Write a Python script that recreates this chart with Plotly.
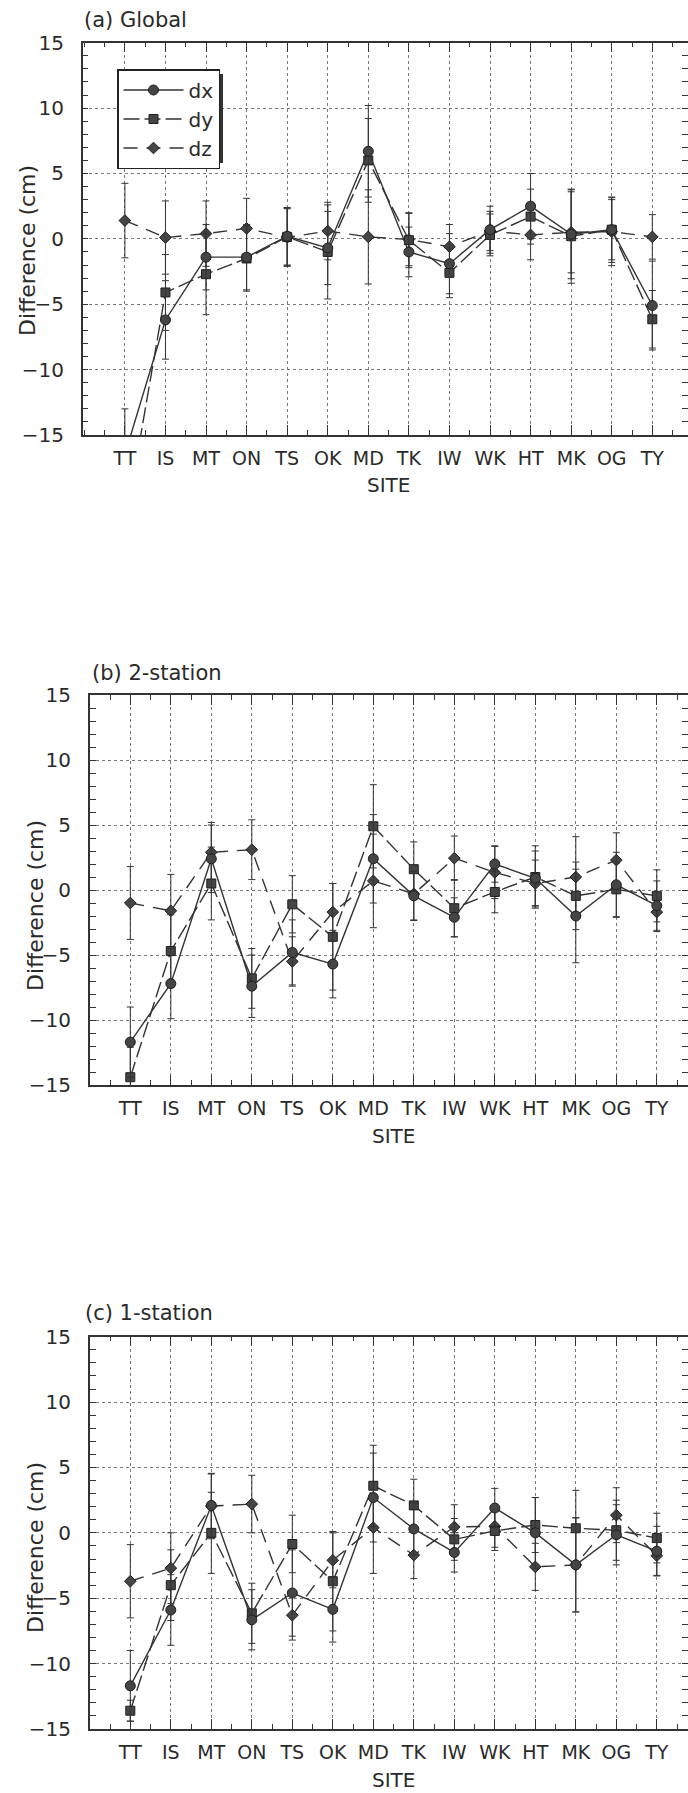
import plotly.graph_objects as go

sites = ["TT", "IS", "MT", "ON", "TS", "OK", "MD", "TK", "IW", "WK", "HT", "MK", "OG", "TY"]
site_pos = list(range(1, 15))

# (a) Global
dx_a = [-16.5, -6.2, -1.4, -1.4, 0.2, -0.7, 6.7, -1.0, -1.9, 0.7, 2.5, 0.35, 0.7, -5.1]
ex_a = [3.5, 3.0, 2.5, 2.5, 2.2, 2.8, 3.5, 1.9, 2.3, 1.8, 2.5, 3.4, 2.5, 3.4]
dy_a = [-22.0, -4.1, -2.7, -1.5, 0.15, -1.0, 6.0, -0.1, -2.6, 0.3, 1.7, 0.2, 0.7, -6.15]
ey_a = [3.0, 2.9, 3.1, 2.5, 2.2, 3.6, 3.2, 2.1, 1.9, 1.6, 2.1, 3.6, 2.3, 2.2]
dz_a = [1.4, 0.1, 0.4, 0.8, 0.1, 0.6, 0.15, -0.05, -0.6, 0.6, 0.3, 0.5, 0.55, 0.15]
ez_a = [2.85, 2.8, 2.5, 2.3, 2.2, 2.2, 3.6, 2.0, 1.7, 1.5, 1.9, 3.1, 2.6, 1.7]

# (b) 2-station
dx_b = [-11.7, -7.2, 2.4, -7.4, -4.8, -5.7, 2.4, -0.45, -2.1, 2.0, 0.9, -2.0, 0.4, -1.2]
ex_b = [2.7, 2.7, 2.6, 2.4, 2.5, 2.6, 3.4, 1.9, 1.5, 1.4, 2.1, 3.6, 2.5, 1.9]
dy_b = [-14.4, -4.7, 0.5, -6.8, -1.1, -3.6, 4.9, 1.6, -1.4, -0.15, 1.0, -0.45, 0.05, -0.45]
ey_b = [2.3, 2.8, 2.8, 2.3, 2.2, 4.1, 3.2, 2.1, 2.2, 1.6, 2.4, 2.6, 2.1, 2.0]
dz_b = [-1.0, -1.6, 2.9, 3.1, -5.5, -1.7, 0.7, -0.3, 2.45, 1.35, 0.5, 1.0, 2.3, -1.7]
ez_b = [2.8, 2.8, 2.3, 2.3, 1.9, 2.2, 3.6, 2.0, 1.7, 2.0, 1.8, 3.1, 2.1, 1.5]

# (c) 1-station
dx_c = [-11.7, -5.9, 2.1, -6.65, -4.6, -5.85, 2.7, 0.3, -1.5, 1.9, 0.0, -2.45, -0.15, -1.4]
ex_c = [2.7, 2.7, 2.4, 2.3, 3.3, 2.5, 3.4, 2.0, 1.5, 1.5, 2.7, 3.6, 2.3, 1.9]
dy_c = [-13.6, -4.0, 0.0, -6.15, -0.85, -3.7, 3.6, 2.1, -0.5, 0.15, 0.6, 0.35, 0.2, -0.4]
ey_c = [0.8, 2.7, 3.1, 2.3, 2.2, 3.8, 3.1, 2.0, 1.6, 1.5, 2.1, 2.9, 2.3, 1.9]
dz_c = [-3.7, -2.7, 2.05, 2.2, -6.3, -2.1, 0.4, -1.7, 0.45, 0.5, -2.6, -2.45, 1.35, -1.75]
ez_c = [2.8, 2.7, 2.5, 2.2, 1.9, 2.1, 3.5, 1.8, 1.7, 1.6, 1.8, 3.6, 2.1, 1.5]

panel_titles = ["(a) Global", "(b) 2-station", "(c) 1-station"]

W, H = 688, 1793
FONT = "DejaVu Sans"
INK = "#2a2a2a"
LINE = "#333333"
MARK = "#454545"

def px_x(v):
    return v / W

def px_y(v):
    return 1 - v / H

panels = [
    dict(left=82.7, top=42.7, bottom=435.0, xr=[-0.04, 14.88], title_y=20, title_x=82, ylab_x=28, ylab_y=251, site_y=485, site_x=388),
    dict(left=89.8, top=695.0, bottom=1085.0, xr=[0.0, 14.77], title_y=673, title_x=90, ylab_x=35, ylab_y=906, site_y=1136, site_x=393),
    dict(left=89.8, top=1336.7, bottom=1729.0, xr=[0.0, 14.77], title_y=1313, title_x=83, ylab_x=35, ylab_y=1548, site_y=1780, site_x=393),
]

data = [
    (dx_a, ex_a, dy_a, ey_a, dz_a, ez_a),
    (dx_b, ex_b, dy_b, ey_b, dz_b, ez_b),
    (dx_c, ex_c, dy_c, ey_c, dz_c, ez_c),
]

styles = {
    "dx": dict(symbol="circle", size=10, dash="solid"),
    "dy": dict(symbol="square", size=9, dash="16px,5px"),
    "dz": dict(symbol="diamond", size=9, dash="14px,9px"),
}

fig = go.Figure()

for i, (p, d) in enumerate(zip(panels, data)):
    suffix = "" if i == 0 else str(i + 1)
    vals = {"dx": (d[0], d[1]), "dy": (d[2], d[3]), "dz": (d[4], d[5])}
    for name in ["dz", "dy", "dx"]:
        v, e = vals[name]
        st = styles[name]
        fig.add_trace(go.Scatter(
            x=site_pos, y=v, name=name, mode="lines+markers",
            xaxis="x" + suffix, yaxis="y" + suffix,
            showlegend=(i == 0), legendrank={"dx": 1, "dy": 2, "dz": 3}[name],
            cliponaxis=True,
            line=dict(color=LINE, width=1.4, dash=st["dash"]),
            marker=dict(symbol=st["symbol"], size=st["size"], color=MARK,
                        line=dict(color="#1e1e1e", width=1)),
            error_y=dict(type="data", array=e, visible=True, color=LINE,
                         thickness=1, width=3.5),
        ))

    xa = dict(
        domain=[px_x(p["left"]), 1.0], range=p["xr"], automargin=False,
        tickmode="array", tickvals=site_pos, ticktext=sites,
        ticks="inside", ticklen=10, tickwidth=1.3, tickcolor=LINE,
        showline=True, linecolor=LINE, linewidth=1.5, mirror="ticks",
        showgrid=True, gridcolor="#7a7a7a", gridwidth=1, griddash="dot",
        zeroline=False,
        minor=dict(dtick=0.5, tick0=0, ticks="inside", ticklen=5, tickwidth=1.2,
                   tickcolor=LINE, showgrid=False),
        tickfont=dict(family=FONT, size=19, color=INK),
        ticklabelstandoff=5,
        anchor="y" + suffix, fixedrange=True,
    )
    ya = dict(
        domain=[px_y(p["bottom"]), px_y(p["top"])], range=[-15, 15], automargin=False,
        tickmode="linear", tick0=-15, dtick=5,
        ticks="inside", ticklen=6, tickwidth=1.2, tickcolor=LINE,
        showline=True, linecolor=LINE, linewidth=1.5, mirror="ticks",
        showgrid=True, gridcolor="#7a7a7a", gridwidth=1, griddash="dot",
        zeroline=False,
        minor=dict(dtick=1, tick0=0, ticks="inside", ticklen=6, tickwidth=1.1,
                   tickcolor=LINE, showgrid=False),
        tickfont=dict(family=FONT, size=20, color=INK),
        ticklabelstandoff=13,
        anchor="x" + suffix, fixedrange=True,
    )
    fig.update_layout(**{"xaxis" + suffix: xa, "yaxis" + suffix: ya})

    fig.add_annotation(text=panel_titles[i], xref="paper", yref="paper",
                       x=px_x(p["title_x"]), y=px_y(p["title_y"]),
                       xanchor="left", yanchor="middle", showarrow=False,
                       font=dict(family=FONT, size=21, color=INK))
    fig.add_annotation(text="Difference (cm)", xref="paper", yref="paper",
                       x=px_x(p["ylab_x"]), y=px_y(p["ylab_y"]), textangle=-90,
                       xanchor="center", yanchor="middle", showarrow=False,
                       font=dict(family=FONT, size=22, color=INK))
    fig.add_annotation(text="SITE", xref="paper", yref="paper",
                       x=px_x(p["site_x"]), y=px_y(p["site_y"]),
                       xanchor="center", yanchor="middle", showarrow=False,
                       font=dict(family=FONT, size=20, color=INK))

# legend drop shadow
fig.add_shape(type="rect", xref="paper", yref="paper",
              x0=px_x(122), x1=px_x(223), y0=px_y(163), y1=px_y(74),
              fillcolor="#333333", line=dict(width=0), layer="above")

fig.update_layout(
    width=W, height=H,
    margin=dict(l=0, r=0, t=0, b=0, autoexpand=False),
    paper_bgcolor="white", plot_bgcolor="white",
    showlegend=True,
    legend=dict(x=px_x(117), y=px_y(69), xanchor="left", yanchor="top",
                bgcolor="white", bordercolor="#222222", borderwidth=1.5,
                font=dict(family=FONT, size=20, color=INK),
                itemwidth=60, tracegroupgap=0, traceorder="normal"),
    font=dict(family=FONT, color=INK),
)

fig.write_html("out.html")
